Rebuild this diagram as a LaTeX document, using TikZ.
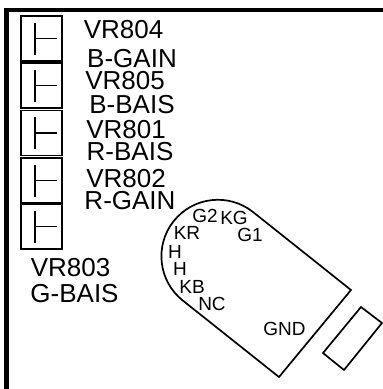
\documentclass[tikz,border=0pt]{standalone}
\usepackage{fontspec}
\setmainfont{Liberation Sans}

\begin{document}
\begin{tikzpicture}[x=1pt, y=-1pt, line join=miter]
    \tikzstyle{frame}=[line width=4.5pt]
    \tikzstyle{vrbox}=[draw, line width=1.6pt, minimum width=41pt, minimum height=45pt, inner sep=0pt]
    \tikzstyle{tee}=[line width=1.9pt]
    \tikzstyle{outline}=[line width=1.7pt]
    \tikzstyle{vrlabel}=[inner sep=0pt, font=\fontsize{26}{28}\selectfont]
    \tikzstyle{pinlabel}=[inner sep=0pt, font=\fontsize{19}{21}\selectfont]

    \useasboundingbox (0,0) rectangle (383,389);

    % outer frame
    \draw[frame] (6.5,389) -- (6.5,10) -- (383,10);

    % trimmers
    \foreach \name / \y in {804/38.5, 805/85.5, 801/133, 802/180.5, 803/226.5}
        \node[vrbox] (B-\name) at (41.5,\y) {};

    \foreach \name in {804,805,801,802,803} {
        \coordinate (T-\name) at ([xshift=-6.5pt]B-\name.center);
        \draw[tee] ([yshift=-16pt]T-\name) -- ([yshift=16pt]T-\name);
        \draw[tee] (T-\name) -- ([xshift=15pt]B-\name.center);
    }

    % trimmer labels
    \node[vrlabel] (l-804) at (123.5,30) {VR804};
    \node[vrlabel] (g-804) at (132,59) {B-GAIN};
    \node[vrlabel] (l-805) at (125,81) {VR805};
    \node[vrlabel] (g-805) at (132,105) {B-BAIS};
    \node[vrlabel] (l-801) at (126,130) {VR801};
    \node[vrlabel] (g-801) at (130,152) {R-BAIS};
    \node[vrlabel] (l-802) at (126,179) {VR802};
    \node[vrlabel] (g-802) at (130,201) {R-GAIN};
    \node[vrlabel] (l-803) at (70.5,267.5) {VR803};
    \node[vrlabel] (g-803) at (74.5,294) {G-BAIS};

    % socket outline
    \coordinate (upper) at (351,290);
    \coordinate (lower) at (279,377);
    \draw[outline] (upper) -- (253,212) arc (-51.6:-231.6:56.5) -- (lower) -- cycle;

    % socket pins
    \foreach \name / \x / \y in {G2/205/216, KG/234/218, G1/250/235, KR/187/233, KB/192/287, NC/212/304, GND/284.5/329}
        \node[pinlabel] (P-\name) at (\x,\y) {\name};
    \node[pinlabel] (P-H1) at (175,252) {H};
    \node[pinlabel] (P-H2) at (180,269) {H};

    % small block
    \draw[outline] (361,307) -- (382,323) -- (344,370) -- (323,353) -- cycle;
\end{tikzpicture}
\end{document}
